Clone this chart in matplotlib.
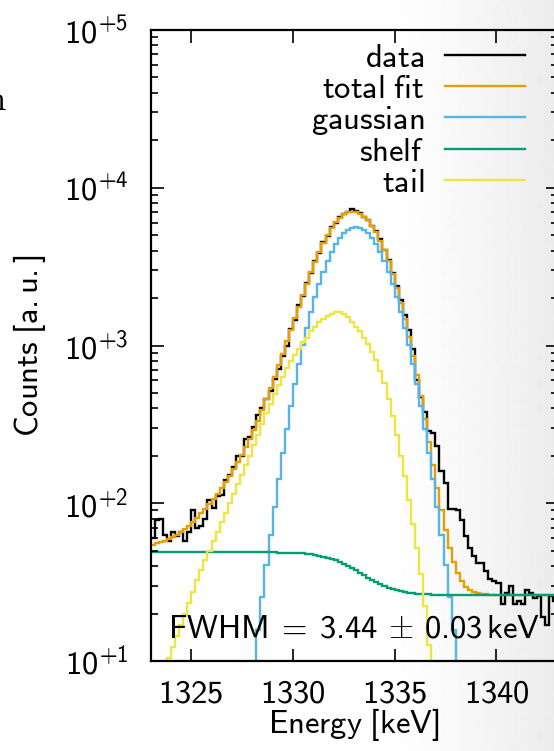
import numpy as np
import matplotlib
matplotlib.use("Agg")
import matplotlib.pyplot as plt
from matplotlib.lines import Line2D
from matplotlib.offsetbox import TextArea, HPacker, AnchoredOffsetbox
from matplotlib.ticker import MultipleLocator, FuncFormatter, LogLocator, NullFormatter

# Espectro alrededor del pico de 1332 keV, bins de 0.2 keV
E_MIN = 1323.0
BIN_WIDTH = 0.2

data_counts = [
    60, 78, 79, 63, 58, 66, 62, 66, 58, 66,
    90, 70, 72, 80, 105, 93, 111, 112, 140, 150,
    170, 199, 200, 255, 262, 305, 360, 400, 460, 515,
    615, 710, 860, 995, 1270, 1450, 1800, 2050, 2500, 2870,
    3450, 3880, 4520, 4950, 5600, 6000, 6500, 6800, 7050, 7300,
    7100, 6950, 6500, 6250, 5700, 5300, 4700, 4050, 3500, 2900,
    2400, 1950, 1550, 1250, 950, 600, 470, 380, 285, 280,
    230, 160, 135, 92, 92, 90, 78, 62, 52, 46,
    42, 42, 37, 33, 32, 31, 23, 27, 30, 23,
    24, 23, 28, 27, 25, 26, 19, 17, 26, 24,
]

total_fit = [
    54.7, 55.6, 56.7, 57.9, 59.3, 61.1, 63.3, 65.8, 68.8, 72.2,
    76.3, 81.2, 86.8, 92.5, 98.9, 106.3, 114.9, 124.7, 136.0, 149.1,
    164.4, 181.9, 201.7, 226.1, 254.5, 292.4, 333.6, 390.3, 461.2, 538.5,
    633.8, 752.7, 886.7, 1067.6, 1256.6, 1487.4, 1766.3, 2100.1, 2467.8, 2918.5,
    3398.1, 3927.6, 4460.0, 5015.2, 5535.4, 6035.5, 6454.4, 6771.3, 6968.1, 7034.8,
    6995.6, 6849.3, 6571.0, 6201.8, 5734.7, 5214.7, 4628.7, 4025.9, 3421.2, 2851.5,
    2330.0, 1868.6, 1473.3, 1137.0, 863.8, 646.7, 476.1, 343.9, 246.0, 174.7,
    124.5, 90.5, 67.4, 52.1, 42.2, 35.9, 32.0, 29.6, 28.2, 27.4,
    26.9, 26.6, 26.4, 26.3, 26.3, 26.3, 26.3, 26.3, 26.3, 26.3,
    26.3, 26.3, 26.3, 26.3, 26.3, 26.3, 26.3, 26.3, 26.3, 26.3,
]

gaussian = [
    0.01, 0.01, 0.01, 0.01, 0.01, 0.01, 0.01, 0.01, 0.01, 0.01,
    0.01, 0.01, 0.01, 0.01, 0.01, 0.01, 0.04, 0.08, 0.16, 0.31,
    0.58, 1.05, 1.9, 3.3, 5.7, 9.6, 15.8, 25.5, 40.4, 62.7,
    95, 142, 207, 295, 414, 568, 763, 1005, 1298, 1641,
    2033, 2468, 2935, 3421, 3906, 4370, 4790, 5145, 5414, 5583,
    5640, 5583, 5414, 5145, 4790, 4370, 3906, 3421, 2935, 2468,
    2033, 1641, 1298, 1005, 763, 568, 414, 295, 207, 142,
    95, 62.7, 40.4, 25.5, 15.8, 9.6, 5.7, 3.3, 1.9, 1.05,
    0.58, 0.31, 0.16, 0.08, 0.04, 0.01, 0.01, 0.01, 0.01, 0.01,
    0.01, 0.01, 0.01, 0.01, 0.01, 0.01, 0.01, 0.01, 0.01, 0.01,
]

shelf = [
    48.8, 48.8, 48.8, 48.8, 48.8, 48.8, 48.8, 48.8, 48.8, 48.8,
    48.8, 48.8, 48.8, 48.8, 48.8, 48.8, 48.8, 48.8, 48.8, 48.8,
    48.8, 48.8, 48.8, 48.8, 48.8, 48.8, 48.8, 48.8, 48.8, 48.8,
    48.75, 48.73, 48.69, 48.63, 48.55, 48.44, 48.29, 48.09, 47.83, 47.49,
    47.08, 46.57, 45.95, 45.23, 44.40, 43.45, 42.41, 41.28, 40.08, 38.83,
    37.55, 36.27, 35.02, 33.8, 32.69, 31.65, 30.70, 29.87, 29.15, 28.53,
    28.02, 27.61, 27.27, 27.01, 26.81, 26.66, 26.55, 26.47, 26.41, 26.37,
    26.3, 26.3, 26.3, 26.3, 26.3, 26.3, 26.3, 26.3, 26.3, 26.3,
    26.3, 26.3, 26.3, 26.3, 26.3, 26.3, 26.3, 26.3, 26.3, 26.3,
    26.3, 26.3, 26.3, 26.3, 26.3, 26.3, 26.3, 26.3, 26.3, 26.3,
]

tail = [
    5.9, 6.8, 7.9, 9.1, 10.5, 12.3, 14.5, 17.0, 20.0, 23.4,
    27.5, 32.4, 38.0, 43.7, 50.1, 57.5, 66.1, 75.9, 87.1, 100,
    115, 132, 151, 174, 200, 234, 269, 316, 372, 427,
    490, 562, 631, 724, 794, 871, 955, 1047, 1122, 1230,
    1318, 1413, 1479, 1549, 1585, 1622, 1622, 1585, 1514, 1413,
    1318, 1230, 1122, 1023, 912, 813, 692, 575, 457, 355,
    269, 200, 148, 105, 74, 52, 35.5, 22.4, 12.6, 6.3,
    3.2, 1.5, 0.7, 0.3, 0.1, 0.05, 0.02, 0.01, 0.01, 0.01,
    0.01, 0.01, 0.01, 0.01, 0.01, 0.01, 0.01, 0.01, 0.01, 0.01,
    0.01, 0.01, 0.01, 0.01, 0.01, 0.01, 0.01, 0.01, 0.01, 0.01,
]

labels = ["data", "total fit", "gaussian", "shelf", "tail"]
colors = ["black", "#E69F00", "#56B4E9", "#009E73", "#F0E442"]

FWHM = 3.44
FWHM_ERR = 0.03

FS = 23.5
LW = 1.7


def sf(s):
    # texto en sans de Computer Modern (cmss10 via mathtext)
    return r"$\mathrm{%s}$" % s.replace(" ", r"\ ")


def main():
    plt.rcParams.update({
        "mathtext.fontset": "custom",
        "mathtext.rm": "cmss10",
        "mathtext.sf": "cmss10",
        "mathtext.it": "cmss10",
        "mathtext.bf": "cmss10",
        "mathtext.fallback": "cm",
    })

    edges = E_MIN + BIN_WIDTH * np.arange(len(data_counts) + 1)

    fig = plt.figure(figsize=(5.54, 7.51), dpi=100)

    # sombra gris hacia el borde derecho
    bg = fig.add_axes([0, 0, 1, 1], zorder=0)
    xs = np.linspace(0, 1, 554)
    shade = 1 - 0.075 * np.clip((xs - 0.70) / 0.30, 0, 1) ** 1.2
    bg.imshow(shade[None, :], extent=[0, 1, 0, 1], aspect="auto",
              cmap="gray", vmin=0, vmax=1, interpolation="bilinear")
    bg.set_xlim(0, 1)
    bg.set_ylim(0, 1)
    bg.axis("off")

    # letra cortada del panel vecino
    fig.text(6.5 / 554, 1 - 110 / 751, r"$\mathrm{n}$", fontsize=25,
             ha="right", va="baseline", math_fontfamily="cm")

    ax = fig.add_axes([150.5 / 554, 90 / 751, 407 / 554, 631 / 751], zorder=1)
    ax.patch.set_alpha(0)

    series = [data_counts, total_fit, gaussian, shelf, tail]
    for vals, c in zip(series, colors):
        ax.stairs(vals, edges, baseline=None, color=c, lw=LW)

    ax.set_yscale("log")
    ax.set_xlim(1323, 1343)
    ax.set_ylim(10, 1e5)

    ax.xaxis.set_major_locator(MultipleLocator(5))
    ax.xaxis.set_major_formatter(FuncFormatter(lambda v, p: sf("%d" % v)))
    ax.yaxis.set_major_locator(LogLocator(base=10, numticks=10))
    ax.yaxis.set_minor_locator(LogLocator(base=10, subs=np.arange(2, 10), numticks=20))
    ax.yaxis.set_major_formatter(FuncFormatter(
        lambda v, p: r"$\mathrm{10}^{\mathrm{+%d}}$" % round(np.log10(v))))
    ax.yaxis.set_minor_formatter(NullFormatter())

    ax.tick_params(which="both", direction="in", top=True, right=True, width=1.2)
    ax.tick_params(which="major", length=9, labelsize=FS)
    ax.tick_params(which="minor", length=4.8)
    ax.tick_params(axis="y", which="major", pad=16)
    ax.tick_params(axis="x", which="major", pad=11)
    for s in ax.spines.values():
        s.set_linewidth(1.6)

    ax.set_xlabel(sf("Energy [keV]"), fontsize=FS)
    ax.set_ylabel(sf("Counts [a.u.]"), fontsize=FS)
    ax.xaxis.set_label_coords(0.5, -0.071)
    ax.yaxis.set_label_coords(-0.252, 0.5)

    handles = [Line2D([], [], color=c, lw=LW) for c in colors]
    ax.legend(handles, [sf(l) for l in labels], loc="upper right",
              bbox_to_anchor=(0.92, 0.983), markerfirst=False, frameon=False,
              fontsize=FS, handlelength=2.45, handletextpad=0.64,
              labelspacing=-0.06, borderpad=0, borderaxespad=0)

    # FWHM = x ± dx keV ; el signo ± se toma de las fuentes cm
    parts = [
        TextArea(r"$\mathrm{FWHM}\;=\;\mathrm{%.2f}$" % FWHM,
                 textprops=dict(fontsize=FS)),
        TextArea(r"$\pm$", textprops=dict(fontsize=FS, math_fontfamily="cm")),
        TextArea(r"$\mathrm{%.2f}\,\mathrm{keV}$" % FWHM_ERR,
                 textprops=dict(fontsize=FS)),
    ]
    fwhm_box = HPacker(children=parts, align="baseline", pad=0, sep=7)
    anchored = AnchoredOffsetbox(loc="lower center", child=fwhm_box, pad=0,
                                 borderpad=0, frameon=False,
                                 bbox_to_anchor=(0.5, 0.026),
                                 bbox_transform=ax.transAxes)
    ax.add_artist(anchored)

    fig.savefig("out.png", dpi=100)


if __name__ == "__main__":
    main()
